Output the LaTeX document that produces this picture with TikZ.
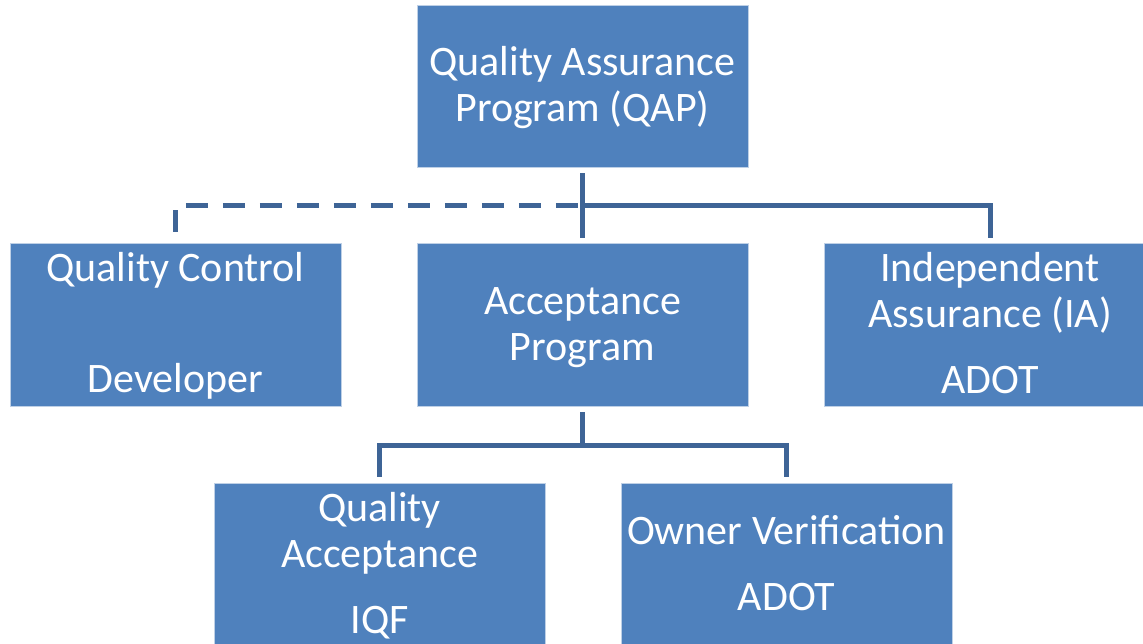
\documentclass[tikz,border=0pt]{standalone}
\usepackage{fontspec}
\setmainfont{Carlito}
\definecolor{boxblue}{HTML}{4F81BD}
\definecolor{boxedge}{RGB}{190,208,230}
\definecolor{linkblue}{RGB}{62,100,150}
\newcommand{\qtop}{\rule{0pt}{37pt}}
\newcommand{\qbot}{\rule[-12pt]{0pt}{12pt}}
\begin{document}
\begin{tikzpicture}[x=1pt,y=-1pt,
  orgbox/.style={rectangle, fill=boxblue, draw=boxedge, line width=0.8pt,
    minimum width=331pt, minimum height=163pt, inner sep=0pt, align=center,
    text=white, font=\fontsize{42}{46}\selectfont},
  link/.style={draw=linkblue, line width=5pt},
  dashlink/.style={link, dash pattern=on 22pt off 15pt}]
\clip (0,0) rectangle (1143,643);
\fill[white] (0,0) rectangle (1143,643);
\node[orgbox, minimum height=162pt] (qap) at (582.5,86) {\qtop Quality Assurance\\Program (QAP)\qbot};
\node[orgbox] (qc) at (175.5,324.5) {\qtop Quality Control\\[65pt]Developer\qbot};
\node[orgbox] (ap) at (582.5,324.5) {\qtop Acceptance\\Program\qbot};
\node[orgbox] (ia) at (990,324.5) {\qtop Independent\\Assurance (IA)\\[20pt]ADOT\qbot};
\node[orgbox] (qa) at (379.5,564.5) {\qtop Quality\\Acceptance\\[20pt]IQF\qbot};
\node[orgbox] (ov) at (786.5,564.5) {\qtop Owner Verification\\[20pt]ADOT\qbot};
\coordinate (j1) at (582.5,205);
\coordinate (j2) at (582.5,445);
\draw[dashlink] ([yshift=11pt]qc.north) |- (j1);
\draw[link] (j1) -| ([yshift=5pt]ia.north);
\draw[link] ([yshift=-6pt]qap.south) -- ([yshift=5pt]ap.north);
\draw[link] ([yshift=-6pt]ap.south) -- (j2);
\draw[link] ([yshift=6pt]qa.north) |- (j2) -| ([yshift=6pt]ov.north);
\end{tikzpicture}
\end{document}
